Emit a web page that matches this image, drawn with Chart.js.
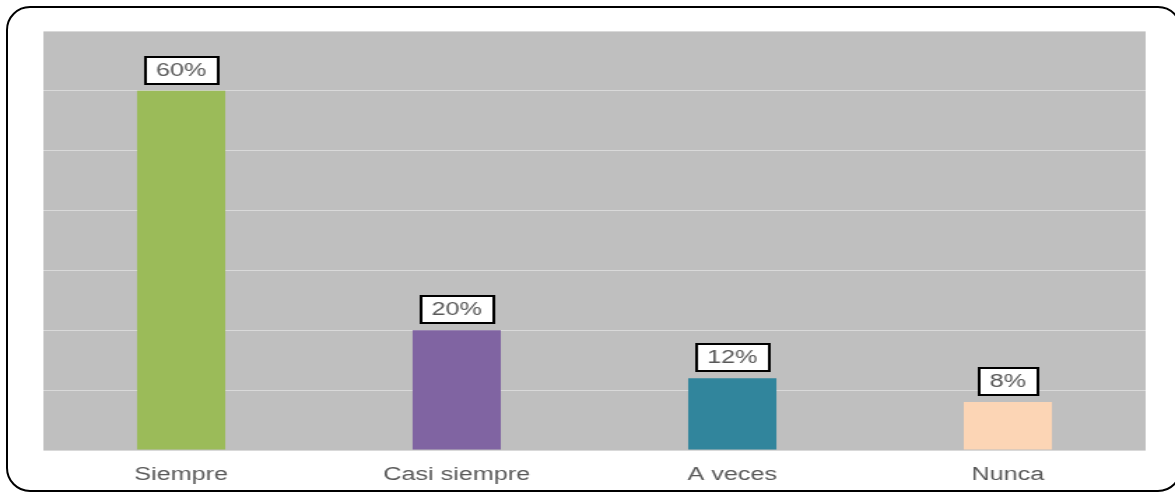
<!DOCTYPE html>
<html>
<head>
<meta charset="utf-8">
<script src="https://cdn.jsdelivr.net/npm/chart.js@4/dist/chart.umd.min.js"></script>
<style>
	html, body { margin: 0; padding: 0; background: #ffffff; }
	#wrap { position: relative; width: 1175px; height: 493px; overflow: hidden; }
	#chart { position: absolute; left: 0; top: 0; }
	#frame {
		position: absolute; left: 6px; top: 6px; width: 1172px; height: 482px;
		border: 2px solid #000000; border-radius: 24px; pointer-events: none;
	}
</style>
</head>
<body>
<div id="wrap">
	<!-- drawn narrow and widened by css, so the text keeps the wide look -->
	<canvas id="chart" width="840" height="493" style="width:1175px;height:493px"></canvas>
	<div id="frame"></div>
</div>
<script>
var categories = ['Siempre', 'Casi siempre', 'A veces', 'Nunca'];
var porcentajes = [60, 20, 12, 8];
var colores = ['#9BBB59', '#8064A2', '#31859C', '#FCD5B5'];
var yTicks = [0, 10, 20, 30, 40, 50, 60, 70];

var FONT = "'Liberation Sans', Arial, sans-serif";

// gray plot background
var plotBg = {
	id: 'plotBg',
	beforeDraw: function(chart){
		var a = chart.chartArea;
		var ctx = chart.ctx;
		ctx.save();
		ctx.fillStyle = '#BFBFBF';
		ctx.fillRect(a.left, a.top, a.right - a.left, a.bottom - a.top);
		ctx.restore();
	}
};

// value labels in white boxes above each bar
var boxLabels = {
	id: 'boxLabels',
	afterDatasetsDraw: function(chart){
		var ctx = chart.ctx;
		var meta = chart.getDatasetMeta(0);
		ctx.save();
		ctx.font = '18px ' + FONT;
		ctx.textAlign = 'center';
		ctx.textBaseline = 'middle';
		meta.data.forEach(function(bar, i){
			var txt = porcentajes[i] + '%';
			var w = Math.round(ctx.measureText(txt).width) + 16;
			var h = 27;
			var x = Math.round(bar.x - w / 2);
			var y = Math.round(bar.y - 7 - h);
			ctx.fillStyle = '#ffffff';
			ctx.fillRect(x, y, w, h);
			ctx.lineWidth = 2;
			ctx.strokeStyle = '#000000';
			ctx.strokeRect(x, y, w, h);
			ctx.fillStyle = '#595959';
			ctx.fillText(txt, bar.x, y + h / 2 + 1);
		});
		ctx.restore();
	}
};

function drawChart(){
	var canvas = document.getElementById('chart');
	new Chart(canvas, {
		type: 'bar',
		data: {
			labels: categories,
			datasets: [{
				data: porcentajes,
				backgroundColor: colores,
				borderWidth: 0,
				categoryPercentage: 1,
				barPercentage: 0.32
			}]
		},
		options: {
			responsive: false,
			devicePixelRatio: 1,
			animation: false,
			events: [],
			layout: { padding: { left: 31, right: 21, top: 31, bottom: 0 } },
			plugins: {
				legend: { display: false },
				tooltip: { enabled: false }
			},
			scales: {
				x: {
					grid: { display: false },
					border: { display: false },
					ticks: { color: '#595959', font: { family: FONT, size: 18 }, padding: 6 },
					afterFit: function(scale){ scale.height = 43; }
				},
				y: {
					min: yTicks[0],
					max: yTicks[yTicks.length - 1],
					afterBuildTicks: function(scale){
						scale.ticks = yTicks.map(function(v){ return { value: v }; });
					},
					grid: { color: '#D9D9D9', lineWidth: 1, drawTicks: false },
					border: { display: false },
					ticks: { display: false },
					afterFit: function(scale){ scale.width = 0; }
				}
			}
		},
		plugins: [plotBg, boxLabels]
	});
}

drawChart();
</script>
</body>
</html>
